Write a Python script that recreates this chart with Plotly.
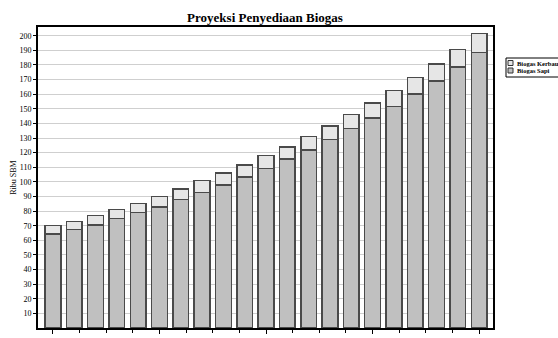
import plotly.graph_objects as go

# Projected biogas supply (thousand SBM), 2010-2030
years = list(range(2010, 2031))
biogas_sapi = [64.4, 67.4, 70.6, 74.9, 78.9, 82.8, 88.1, 92.8, 98.0, 103.3, 109.2,
               115.5, 121.7, 129.0, 136.5, 143.7, 151.7, 160.3, 168.9, 178.5, 188.7]
biogas_kerbau = [5.6, 5.4, 6.3, 6.3, 6.4, 7.1, 7.2, 8.0, 8.2, 8.2, 8.8,
                 8.4, 9.5, 9.2, 9.5, 10.2, 10.9, 11.3, 11.9, 12.2, 12.7]
x_tick_years = [2010, 2015, 2020, 2025, 2030]
y_ticks = list(range(10, 201, 10))

FONT = "Liberation Serif"
SAPI_COLOR = "#c0c0c0"
KERBAU_COLOR = "#e6e6e6"
edge = dict(color="#4a4a4a", width=1.5)

W, H = 558, 338
ML, MR, MT, MB = 38, 65, 27, 10
PW, PH = W - ML - MR, H - MT - MB


def px_x(px):
    return (px - ML) / PW


def px_y(py):
    return (H - MB - py) / PH


fig = go.Figure()
fig.add_trace(go.Bar(x=years, y=biogas_sapi, name="Biogas Sapi", showlegend=False,
                     marker=dict(color=SAPI_COLOR, line=edge)))
fig.add_trace(go.Bar(x=years, y=biogas_kerbau, name="Biogas Kerbau", showlegend=False,
                     marker=dict(color=KERBAU_COLOR, line=edge)))

# compact boxed legend to the right of the plot
shapes = [dict(type="rect", xref="paper", yref="paper",
               x0=px_x(506), x1=px_x(575), y0=px_y(77), y1=px_y(58),
               line=dict(color="black", width=1), fillcolor="white")]
annotations = []
for i, (label, color) in enumerate([("Biogas Kerbau", KERBAU_COLOR),
                                    ("Biogas Sapi", SAPI_COLOR)]):
    top = 60.5 + 7.5 * i
    shapes.append(dict(type="rect", xref="paper", yref="paper",
                       x0=px_x(508), x1=px_x(513), y0=px_y(top + 5), y1=px_y(top),
                       line=dict(color="#333333", width=1), fillcolor=color))
    annotations.append(dict(text=f"<b>{label}</b>", xref="paper", yref="paper",
                            x=px_x(514.5), y=px_y(top + 2.5), xanchor="left",
                            yanchor="middle", showarrow=False,
                            font=dict(family=FONT, size=6.5, color="black")))

fig.update_layout(
    width=W, height=H,
    margin=dict(l=ML, r=MR, t=MT, b=MB, autoexpand=False),
    barmode="stack", bargap=0.26,
    plot_bgcolor="white", paper_bgcolor="white",
    font=dict(family=FONT, color="black"),
    title=dict(text="<b>Proyeksi Penyediaan Biogas</b>", x=px_x(265), xref="paper",
               xanchor="center", y=1 - 17 / H, yanchor="middle",
               font=dict(family=FONT, size=13)),
    shapes=shapes, annotations=annotations,
)

fig.update_xaxes(
    range=[2009.3, 2030.65], tickvals=x_tick_years, automargin=False,
    ticks="outside", ticklen=4, tickcolor="black", tickwidth=1,
    minor=dict(tick0=2010, dtick=1.25, ticks="outside", ticklen=3, tickcolor="black"),
    showgrid=False, showline=True, linecolor="black", linewidth=2, mirror=True,
    tickfont=dict(family=FONT, size=8), zeroline=False,
)
fig.update_yaxes(
    range=[0, 206], tickvals=y_ticks, automargin=False,
    ticks="outside", ticklen=3, tickcolor="black",
    showgrid=True, gridcolor="#cfcfcf", gridwidth=1.2,
    showline=True, linecolor="black", linewidth=2, mirror=True,
    tickfont=dict(family=FONT, size=8), zeroline=False,
    title=dict(text="Ribu SBM", font=dict(family=FONT, size=8), standoff=2),
)

fig.write_html("out.html")
